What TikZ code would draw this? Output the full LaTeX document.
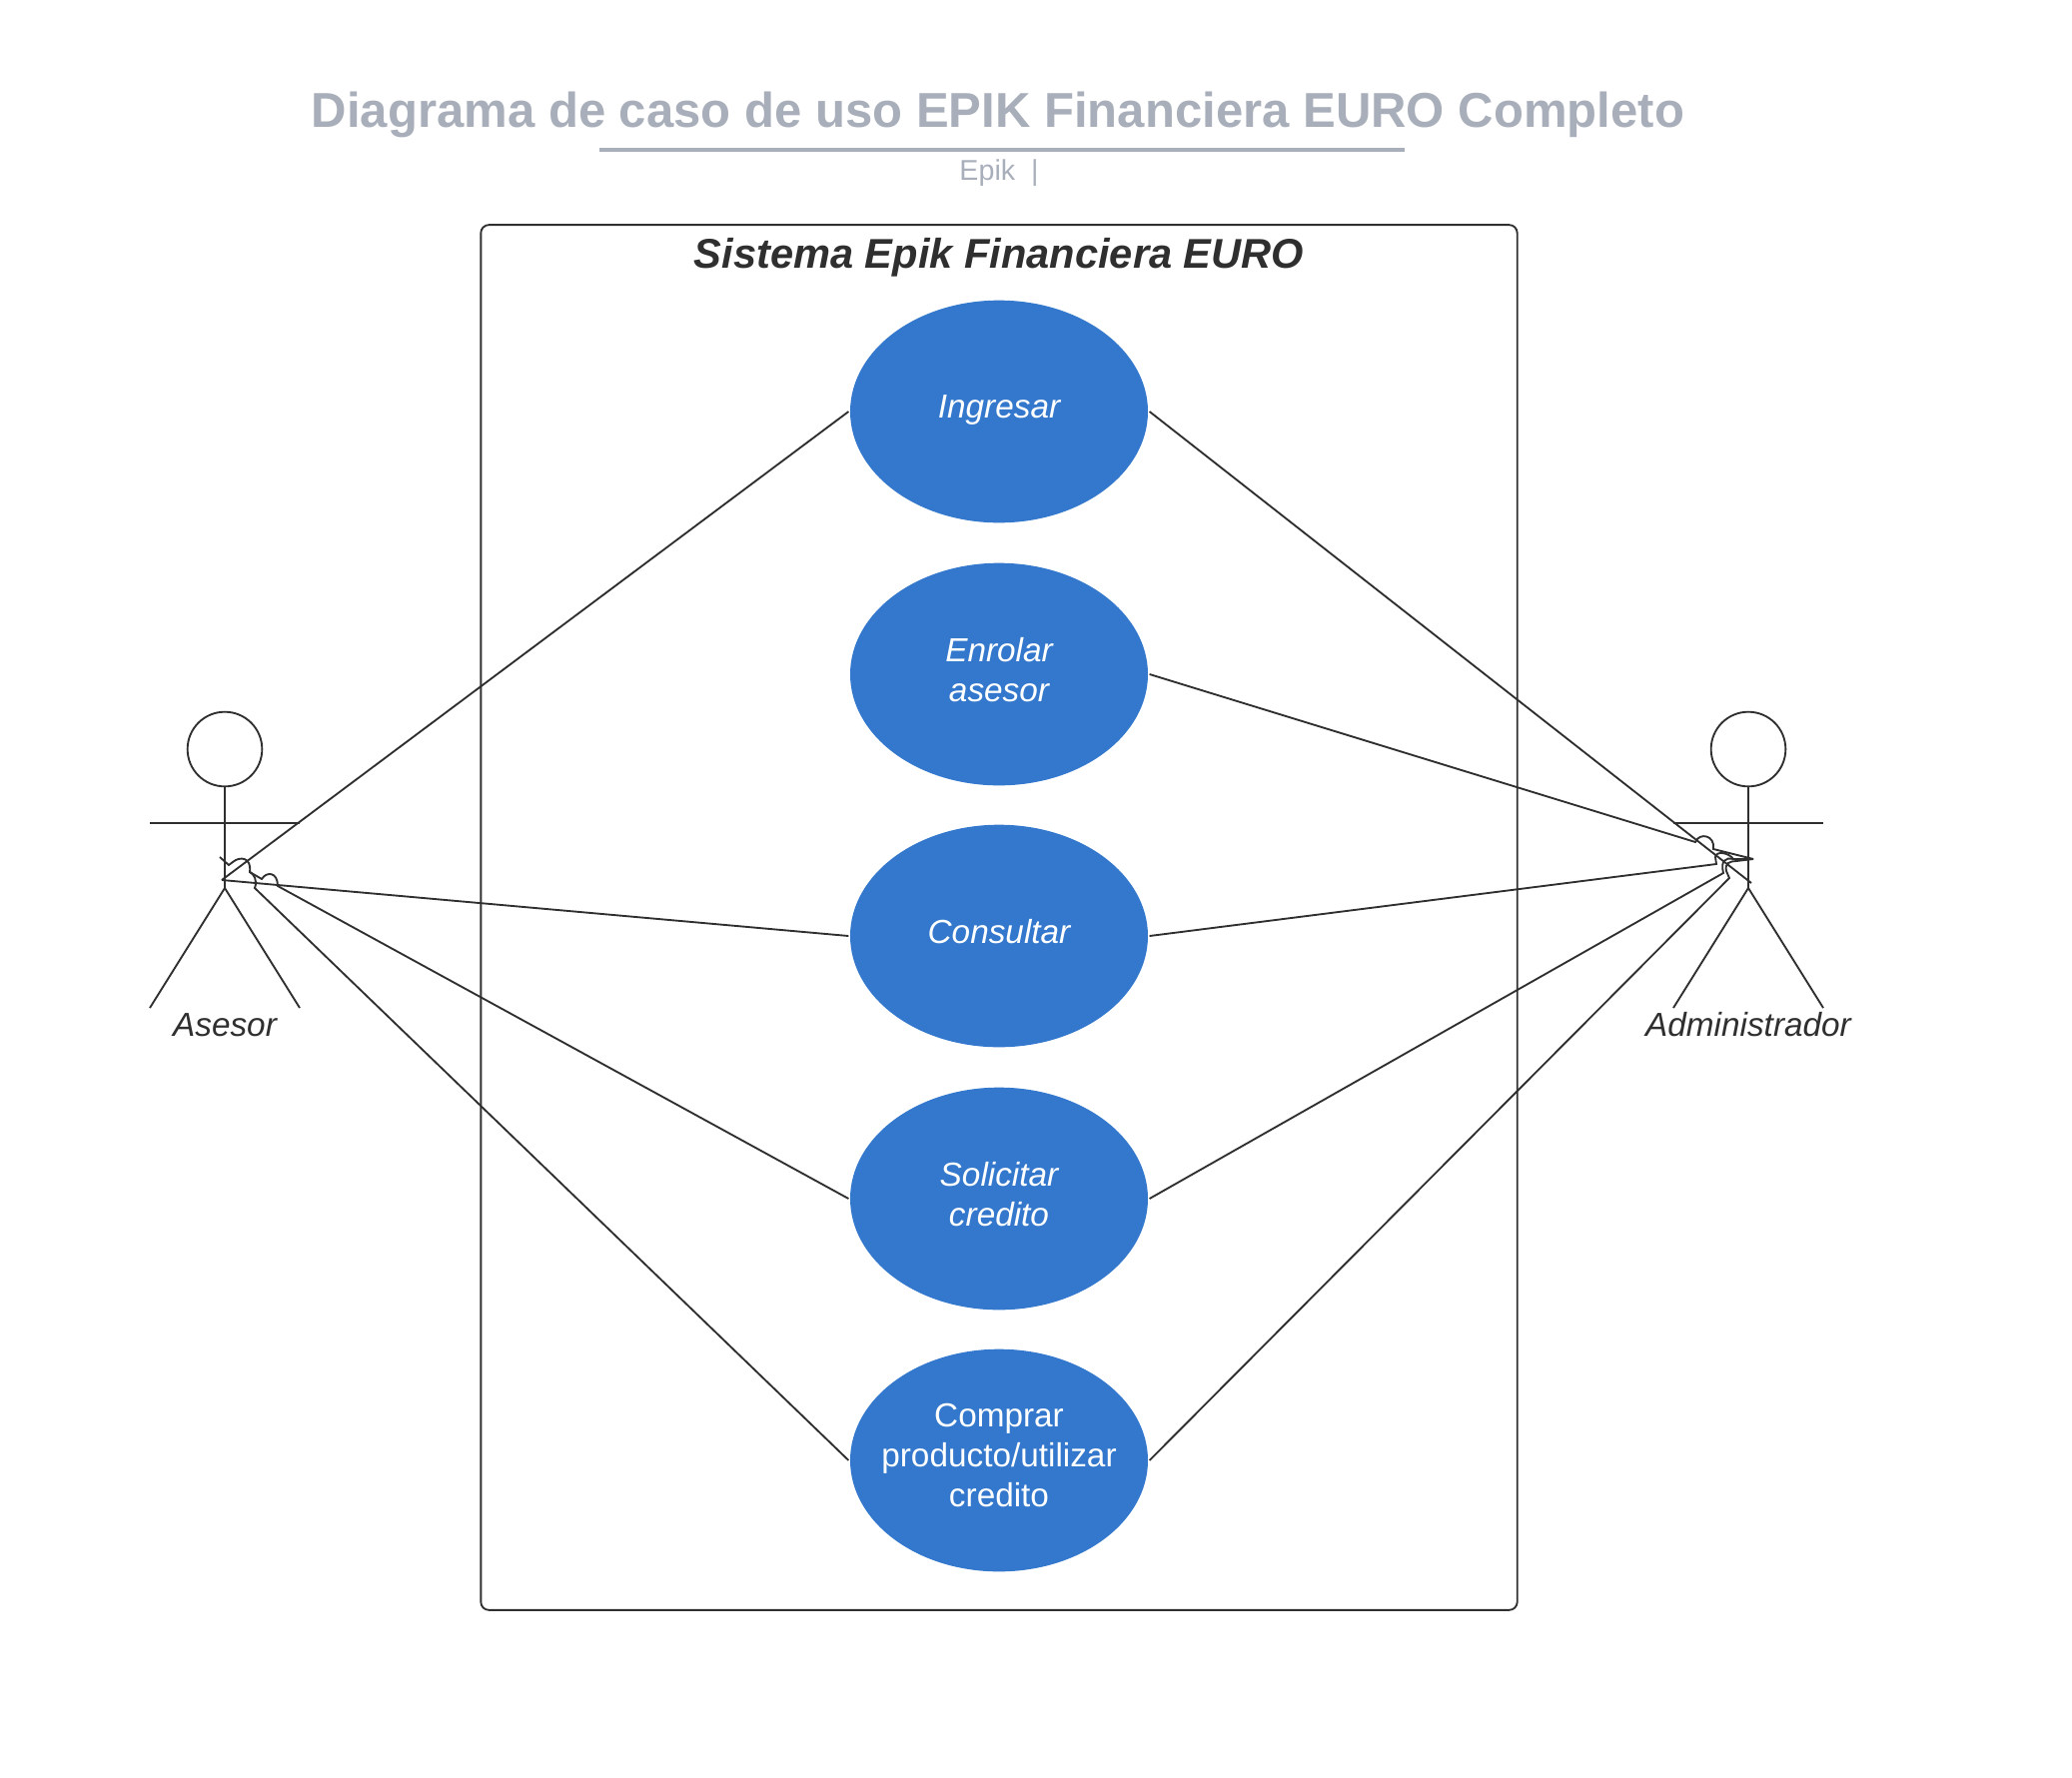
\documentclass[tikz,border=0pt]{standalone}
\usepackage{fontspec}
\setmainfont{Liberation Sans}
\usepackage{xcolor}
\usetikzlibrary{shapes.geometric, positioning}
\definecolor{titlegray}{RGB}{169, 175, 186}
\definecolor{caseblue}{RGB}{51, 120, 204}
\definecolor{linedark}{RGB}{47, 47, 47}
\tikzset{
    caseuse/.style={ellipse, fill=caseblue, draw=none, minimum width=223.5pt, minimum height=167pt, inner xsep=-45pt, inner ysep=0pt, outer sep=1.2pt, text=white, align=center, text depth=7pt, font=\fontsize{25}{30}\selectfont},
    actorhead/.style={circle, draw=linedark, line width=1.4pt, minimum size=56pt, inner sep=0pt, outer sep=0pt},
    actorlimb/.style={draw=linedark, line width=1.4pt},
    actorname/.style={text=linedark, font=\fontsize{25}{30}\selectfont\itshape},
    connector/.style={draw=linedark, line width=1.4pt}
}
\begin{document}
\begin{tikzpicture}[x=0.75pt, y=-0.75pt]
    \useasboundingbox (0,0) rectangle (2074,1779);

    % Title
    \node[font=\fontsize{36.8}{44}\selectfont\bfseries, text=titlegray] (title) at (999,114.5) {Diagrama de caso de uso EPIK Financiera EURO Completo};
    \node[fill=titlegray, minimum width=604.5pt, minimum height=3pt, inner sep=0pt] (titlerule) at (1003,150) {};
    \node[font=\fontsize{21.5}{25}\selectfont, text=titlegray] (subtitle) at (1000,173) {Epik\ \ |};

    % System boundary
    \node[draw=linedark, line width=1.4pt, rounded corners=6pt, minimum width=778pt, minimum height=1040pt, inner sep=0pt] (sistema) at (1000,918.5) {};
    \node[font=\fontsize{31.2}{36}\selectfont\bfseries\itshape, text=linedark, below=7pt of sistema.north] (sistematitle) {Sistema Epik Financiera EURO};

    % Use cases
    \node[caseuse] (ingresar) at (1000,412) {\itshape Ingresar};
    \node[caseuse] (enrolar) at (1000,675) {\itshape Enrolar\\\itshape asesor};
    \node[caseuse] (consultar) at (1000,937) {\itshape Consultar};
    \node[caseuse] (solicitar) at (1000,1200) {\itshape Solicitar\\\itshape credito};
    \node[caseuse] (comprar) at (1000,1462) {Comprar\\producto/utilizar\\credito};

    % Actor Asesor
    \node[actorhead] (asesorhead) at (225,750) {};
    \coordinate (asesorhip) at (225,889);
    \coordinate (asesorhub) at (222,881);
    \draw[actorlimb] (asesorhead.south) -- (asesorhip);
    \draw[actorlimb] (150,824) -- (300,824);
    \draw[actorlimb] (150,1009) -- (asesorhip) -- (300,1009);
    \node[actorname] (asesor) at (225,1026) {Asesor};

    % Actor Administrador
    \node[actorhead] (adminhead) at (1750,750) {};
    \coordinate (adminhip) at (1750,889);
    \coordinate (adminhub) at (1753,884);
    \draw[actorlimb] (adminhead.south) -- (adminhip);
    \draw[actorlimb] (1675,824) -- (1825,824);
    \draw[actorlimb] (1675,1009) -- (adminhip) -- (1825,1009);
    \node[actorname] (admin) at (1750,1026) {Administrador};

    % Line jumps near Asesor
    \coordinate (jumpa) at (278,887);
    \coordinate (jumpb) at (262,880);
    \coordinate (jumpc) at (250,873);
    \coordinate (jumpd) at (233,863);
    \coordinate (jumpe) at (229,866);
    \coordinate (asesorend) at (220,858);
    \coordinate (jumpf) at (255,889);

    % Line jumps near Administrador
    \coordinate (jumpg) at (1697,843);
    \coordinate (jumph) at (1715,850);
    \coordinate (adminend) at (1755,860);
    \coordinate (jumpi) at (1718,865);
    \coordinate (jumpj) at (1717,858);
    \coordinate (jumpk) at (1735,860);
    \coordinate (jumpl) at (1725,874);
    \coordinate (jumpm) at (1731,879);
    \coordinate (jumpn) at (1728,872);
    \coordinate (jumpo) at (1738,862);

    % Connectors Asesor
    \draw[connector] (ingresar.west) -- (asesorhub);
    \draw[connector] (consultar.west) -- (asesorhub);
    \draw[connector] (solicitar.west) -- (jumpa) .. controls +(0,-14) and +(5,-8) .. (jumpb) -- (jumpc) .. controls +(2,-15) and +(7,-6) .. (jumpd) -- (jumpe) -- (asesorend);
    \draw[connector] (comprar.west) -- (jumpf) .. controls +(3,-8) and +(4,2) .. (jumpc);

    % Connectors Administrador
    \draw[connector] (ingresar.east) -- (adminhub);
    \draw[connector] (enrolar.east) -- (jumpg) .. controls +(4,-10) and +(2,-14) .. (jumph) -- (adminend);
    \draw[connector] (consultar.east) -- (jumpi) -- (jumpj) .. controls +(1,-7) and +(-4,-6) .. (jumpk) -- (adminend);
    \draw[connector] (solicitar.east) -- (jumpl) .. controls +(-3,-12) and +(-8,-2) .. (jumpk);
    \draw[connector] (comprar.east) -- (jumpm) -- (jumpn) .. controls +(-2,-8) and +(-6,0) .. (jumpo) -- (adminend);
\end{tikzpicture}
\end{document}
